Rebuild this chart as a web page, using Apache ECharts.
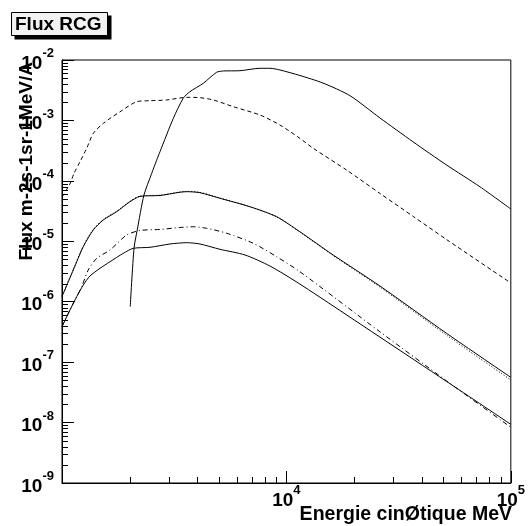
<!DOCTYPE html>
<html>
<head>
<meta charset="utf-8">
<script src="https://cdn.jsdelivr.net/npm/echarts@6/dist/echarts.min.js"></script>
<style>html,body{margin:0;padding:0;background:#fff}#c{width:528px;height:526px}</style>
</head>
<body>
<div id="c"></div>
<script>
// ---- data ----
const xA = [2014, 2094, 2164, 2318, 2510, 2641, 2733, 3133, 3467, 3715, 4259, 4885, 5231, 6209, 7621, 8444, 9354, 11482, 14544, 19184, 26100, 36600, 51700, 72780, 100000];
const yA = [8.3e-7, 7.7e-6, 1.54e-5, 5.8e-5, 1.33e-4, 2.2e-4, 3.04e-4, 1.08e-3, 2.32e-3, 2.99e-3, 4.11e-3, 6.26e-3, 6.58e-3, 6.65e-3, 7.29e-3, 7.29e-3, 6.84e-3, 5.54e-3, 4.16e-3, 2.57e-3, 1.10e-3, 4.45e-4, 1.83e-4, 8.0e-5, 3.42e-5];

const xB = [1000, 1085, 1131, 1203, 1288, 1379, 1528, 1813, 2151, 2466, 2927, 3594, 4118, 4721, 5795, 7621, 9354, 11480, 13165, 18540, 26100, 36720, 51700, 100000];
const yB = [5.4e-5, 8.9e-5, 1.33e-4, 2.07e-4, 3.46e-4, 6.12e-4, 8.96e-4, 1.39e-3, 2.04e-3, 2.12e-3, 2.18e-3, 2.41e-3, 2.38e-3, 2.18e-3, 1.69e-3, 1.23e-3, 8.4e-4, 5.06e-4, 3.46e-4, 1.51e-4, 6.2e-5, 2.58e-5, 1.07e-5, 2.04e-6];

const xC = [1000, 1123, 1244, 1379, 1528, 1753, 2009, 2226, 2733, 3594, 4118, 5055, 6877, 9045, 11480, 16160, 26100, 51700, 100000];
const yC = [1.21e-6, 3.35e-6, 8.14e-6, 1.54e-5, 2.25e-5, 3.09e-5, 4.52e-5, 5.53e-5, 5.73e-5, 6.62e-5, 6.37e-5, 5.15e-5, 3.73e-5, 2.55e-5, 1.44e-5, 5.93e-6, 1.82e-6, 3.0e-7, 5.6e-8];

const xD = xC;
const yD = [1.25e-6, 3.45e-6, 8.4e-6, 1.58e-5, 2.3e-5, 3.15e-5, 4.6e-5, 5.6e-5, 5.8e-5, 6.7e-5, 6.45e-5, 5.2e-5, 3.75e-5, 2.55e-5, 1.42e-5, 5.8e-6, 1.75e-6, 2.8e-7, 5.06e-8];

const xE = [1000, 1085, 1163, 1224, 1309, 1428, 1636, 1941, 2226, 2733, 3354, 3845, 4412, 5415, 7113, 9045, 11480, 26100, 51700, 100000];
const yE = [3.86e-7, 7.29e-7, 1.21e-6, 1.77e-6, 3.35e-6, 5.23e-6, 7.18e-6, 1.27e-5, 1.51e-5, 1.57e-5, 1.69e-5, 1.74e-5, 1.64e-5, 1.36e-5, 9.27e-6, 5.56e-6, 3.14e-6, 3.18e-7, 4.9e-8, 8.36e-9];

const xF = [1000, 1085, 1163, 1244, 1333, 1477, 1636, 1875, 2078, 2466, 3027, 3594, 4118, 5055, 6540, 8444, 11480, 26100, 51700, 100000];
const yF = [3.86e-7, 7.29e-7, 1.21e-6, 1.89e-6, 2.67e-6, 3.57e-6, 4.59e-6, 6.32e-6, 7.65e-6, 7.95e-6, 9.02e-6, 9.48e-6, 9.02e-6, 7.37e-6, 5.93e-6, 3.90e-6, 1.96e-6, 2.6e-7, 4.8e-8, 9.35e-9];

const xDecades = [3, 4];            // decades with minor ticks on x
const yDecades = [-9, -8, -7, -6, -5, -4, -3];
const minorMult = [2, 3, 4, 5, 6, 7, 8, 9];

const titleText = 'Flux RCG';
const xTitle = 'Energie cinØtique MeV';
const yTitle = 'Flux m-2s-1sr-1MeV/A';

// ---- build ----
const FONT = '"Liberation Sans", Arial, Helvetica, sans-serif';
function pairs(xs, ys) { return xs.map((x, i) => [x, ys[i]]); }
const xMinor = [], yMinor = [];
xDecades.forEach(d => minorMult.forEach(m => xMinor.push([m * Math.pow(10, d), 1e-9])));
yDecades.forEach(d => minorMult.forEach(m => yMinor.push([1000, m * Math.pow(10, d)])));

function supLabel(v) {
  const e = Math.round(Math.log10(v));
  return '{a|10}{b|' + e + '}';
}
const richLab = {
  a: { fontFamily: FONT, fontWeight: 'bold', fontSize: 19, lineHeight: 26, verticalAlign: 'bottom', color: '#000' },
  b: { fontFamily: FONT, fontWeight: 'bold', fontSize: 13, lineHeight: 6, verticalAlign: 'top', color: '#000' }
};

function lineSeries(data, type) {
  return {
    type: 'line', data: data, showSymbol: false, symbol: 'none', smooth: 0.25,
    lineStyle: { color: '#000', width: 1, type: type },
    silent: true, animation: false, z: 3
  };
}

const chart = echarts.init(document.getElementById('c'), null, { renderer: 'canvas' });
chart.setOption({
  backgroundColor: '#fff',
  animation: false,
  grid: { left: 62, right: 17, top: 60, bottom: 43, show: true, borderColor: '#000', borderWidth: 1, backgroundColor: 'transparent' },
  xAxis: {
    type: 'log', logBase: 10, min: 1000, max: 100000,
    axisLine: { show: true, lineStyle: { color: '#000', width: 1 } },
    axisTick: { show: true, inside: true, length: 12, lineStyle: { color: '#000' } },
    splitLine: { show: false },
    axisLabel: {
      margin: 1,
      formatter: function (v) { const e = Math.round(Math.log10(v)); return e < 4 ? '' : supLabel(v); },
      rich: richLab
    }
  },
  yAxis: {
    type: 'log', logBase: 10, min: 1e-9, max: 1e-2, splitNumber: 10,
    axisLine: { show: true, lineStyle: { color: '#000', width: 1 } },
    axisTick: { show: true, inside: true, length: 12, lineStyle: { color: '#000' } },
    splitLine: { show: false },
    axisLabel: { margin: 8, formatter: supLabel, rich: richLab }
  },
  series: [
    lineSeries(pairs(xA, yA), 'solid'),
    lineSeries(pairs(xB, yB), [4, 3]),
    lineSeries(pairs(xC, yC), 'solid'),
    lineSeries(pairs(xD, yD), [1, 2]),
    lineSeries(pairs(xE, yE), [5, 3, 1, 3]),
    lineSeries(pairs(xF, yF), 'solid'),
    {
      type: 'custom', data: xMinor, silent: true, animation: false, z: 4,
      renderItem: function (params, api) {
        const p = api.coord([api.value(0), api.value(1)]);
        const x = Math.round(p[0]) + 0.5;
        return { type: 'line', shape: { x1: x, y1: p[1], x2: x, y2: p[1] - 6 }, style: { stroke: '#000', lineWidth: 1 } };
      }
    },
    {
      type: 'custom', data: yMinor, silent: true, animation: false, z: 4,
      renderItem: function (params, api) {
        const p = api.coord([api.value(0), api.value(1)]);
        const y = Math.round(p[1]) + 0.5;
        return { type: 'line', shape: { x1: p[0], y1: y, x2: p[0] + 6, y2: y }, style: { stroke: '#000', lineWidth: 1 } };
      }
    }
  ],
  graphic: [
    { type: 'rect', shape: { x: 14.5, y: 15.5, width: 97, height: 24 }, style: { fill: '#000' }, z: 10 },
    { type: 'rect', shape: { x: 11.5, y: 12.5, width: 96, height: 23 }, style: { fill: '#f2f2f2', stroke: '#000', lineWidth: 1 }, z: 11 },
    { type: 'text', x: 15, y: 24.5, style: { text: titleText, font: 'bold 19px ' + FONT, fill: '#000', align: 'left', verticalAlign: 'middle' }, z: 12 },
    { type: 'text', x: 512, y: 515, style: { text: xTitle, font: 'bold 19.5px ' + FONT, fill: '#000', align: 'right', verticalAlign: 'middle' }, z: 12 },
    { type: 'text', x: 27, y: 62, rotation: Math.PI / 2, style: { text: yTitle, font: 'bold 19px ' + FONT, fill: '#000', align: 'right', verticalAlign: 'middle' }, z: 12 }
  ]
});
</script>
</body>
</html>
